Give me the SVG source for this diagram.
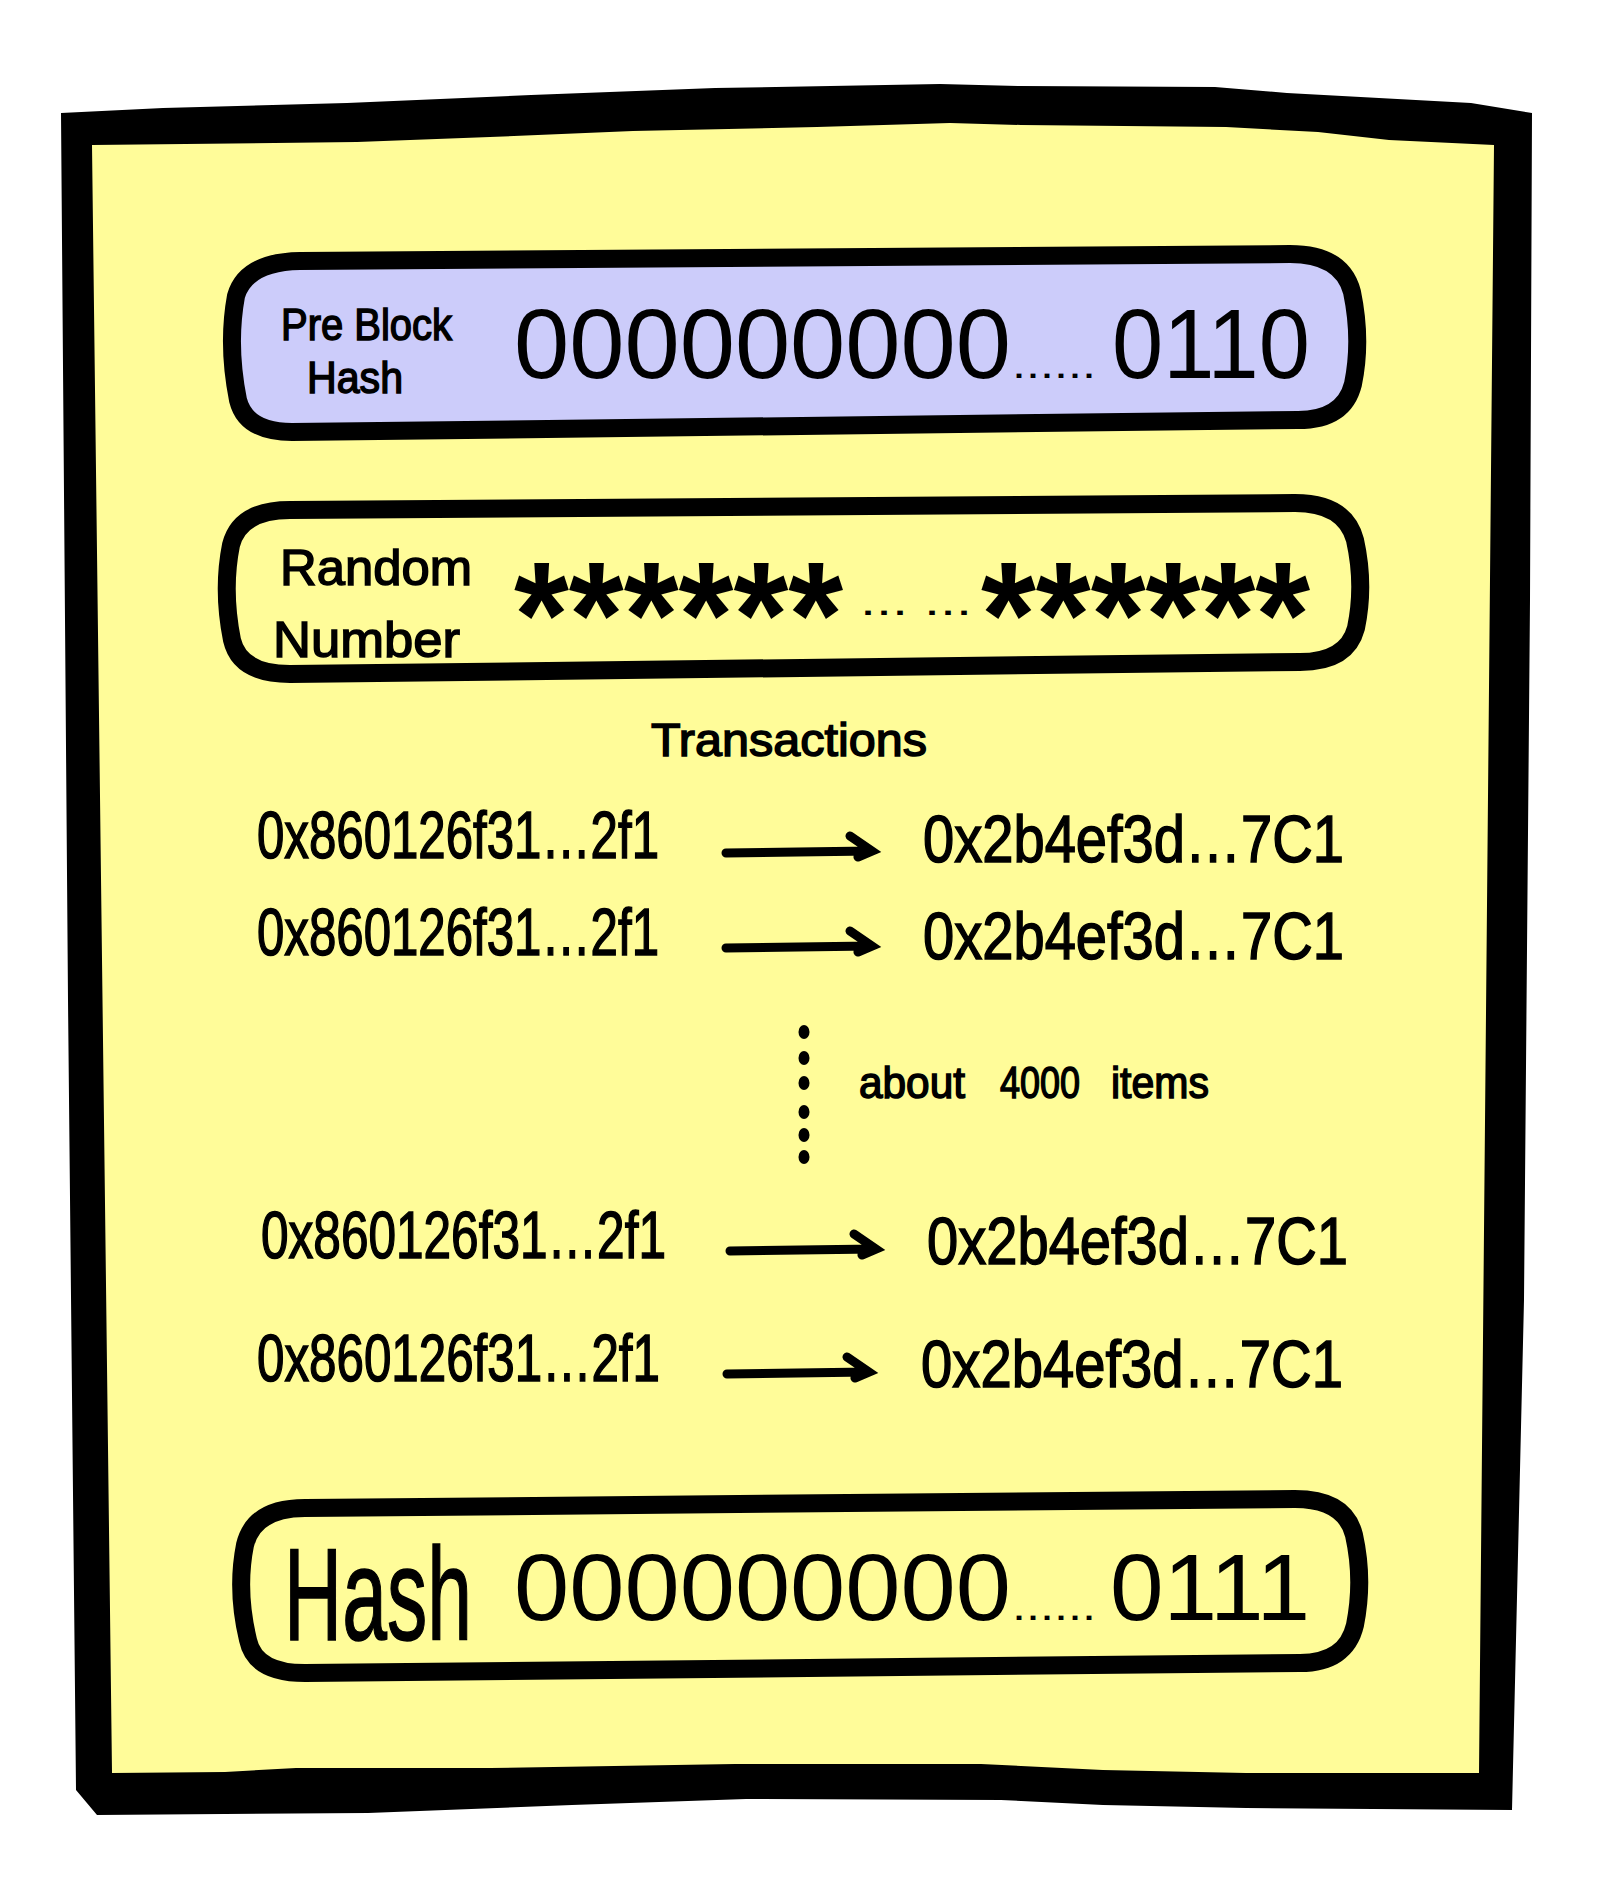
<svg xmlns="http://www.w3.org/2000/svg" width="1601" height="1900" viewBox="0 0 1601 1900">
<style>
.t{font-family:"Liberation Sans",Arial,sans-serif;fill:#000;}
.hand{stroke:#000;stroke-width:1.5;}
.pill{stroke:#000;stroke-width:18;stroke-linejoin:round;}
.arr{stroke:#000;stroke-width:9;stroke-linecap:round;fill:none;}
</style>
<rect width="1601" height="1900" fill="#ffffff"/>
<g id="frame">
<path d="M61,113 L163,108 L347,103 L531,95 L715,88 L940,84 L1021,86 L1215,87 L1287,93 L1471,103 L1532,113 L1530,600 L1524,1300 L1512,1810 L1246,1808 L1103,1805 L1001,1800 L746,1799 L572,1805 L368,1813 L97,1815 L76,1790 L68,1000 Z" fill="#000"/>
<path d="M92,145 L357,142 L490,137 L633,131 L817,127 L950,123 L1021,125 L1226,127 L1318,132 L1389,140 L1494,145 L1479,1773 L1246,1773 L1103,1770 L981,1764 L735,1764 L490,1768 L296,1768 L225,1772 L112,1773 Z" fill="#fffc99"/>
</g>
<g id="pre-block-hash">
<path class="pill" fill="#ccccfa" d="M300,261 L1290,254 Q1342,254 1352,292 Q1362,340 1353,384 Q1344,420 1298,420 L292,432 Q246,432 238,400 Q227,345 236,296 Q246,262 300,261 Z"/>
<text class="t hand" x="281" y="340" font-size="44" textLength="171" lengthAdjust="spacingAndGlyphs">Pre Block</text>
<text class="t hand" x="307" y="393" font-size="44" textLength="96" lengthAdjust="spacingAndGlyphs">Hash</text>
<text class="t" y="378" font-size="99"><tspan x="514" textLength="497" lengthAdjust="spacingAndGlyphs">000000000</tspan><tspan x="1012" font-size="40" textLength="84" lengthAdjust="spacingAndGlyphs">......</tspan><tspan x="1112" textLength="198" lengthAdjust="spacingAndGlyphs">0110</tspan></text>
</g>
<g id="random-number">
<path class="pill" fill="#fffc99" d="M290,510 L1295,503 Q1345,503 1355,540 Q1365,585 1356,628 Q1347,662 1300,662 L290,674 Q240,674 232,640 Q222,590 231,545 Q240,510 290,510 Z"/>
<text class="t hand" x="280" y="585" font-size="50" textLength="192" lengthAdjust="spacingAndGlyphs">Random</text>
<text class="t hand" x="273" y="657" font-size="50" textLength="187" lengthAdjust="spacingAndGlyphs">Number</text>
<text class="t" font-size="150" font-weight="bold" transform="translate(514,667) scale(0.94,1)">******</text>
<text class="t" y="615" font-size="40"><tspan x="860" textLength="112" lengthAdjust="spacingAndGlyphs">... ...</tspan></text>
<text class="t" font-size="150" font-weight="bold" transform="translate(981,667) scale(0.94,1)">******</text>
</g>
<g id="transactions">
<text class="t hand" x="651" y="756" font-size="46" textLength="276" lengthAdjust="spacingAndGlyphs">Transactions</text>
</g>
<g id="tx1">
<text class="t hand" x="257" y="858" font-size="66" textLength="402" lengthAdjust="spacingAndGlyphs">0x860126f31…2f1</text>
<text class="t hand" x="923" y="862" font-size="66" textLength="421" lengthAdjust="spacingAndGlyphs">0x2b4ef3d…7C1</text>
</g>
<g id="tx2">
<text class="t hand" x="257" y="955" font-size="66" textLength="402" lengthAdjust="spacingAndGlyphs">0x860126f31…2f1</text>
<text class="t hand" x="923" y="959" font-size="66" textLength="421" lengthAdjust="spacingAndGlyphs">0x2b4ef3d…7C1</text>
</g>
<g id="ellipsis">
<ellipse cx="804" cy="1032" rx="5.5" ry="7"/>
<ellipse cx="804" cy="1058" rx="5.5" ry="7"/>
<ellipse cx="804" cy="1083" rx="5.5" ry="7"/>
<ellipse cx="804" cy="1112" rx="5.5" ry="7"/>
<ellipse cx="804" cy="1135" rx="5.5" ry="7"/>
<ellipse cx="804" cy="1157" rx="5.5" ry="7"/>
<text class="t hand" y="1098" font-size="44"><tspan x="859" textLength="106" lengthAdjust="spacingAndGlyphs">about</tspan><tspan x="1000" textLength="80" lengthAdjust="spacingAndGlyphs">4000</tspan><tspan x="1111" textLength="98" lengthAdjust="spacingAndGlyphs">items</tspan></text>
</g>
<g id="tx3">
<text class="t hand" x="261" y="1258" font-size="66" textLength="405" lengthAdjust="spacingAndGlyphs">0x860126f31…2f1</text>
<text class="t hand" x="927" y="1264" font-size="66" textLength="421" lengthAdjust="spacingAndGlyphs">0x2b4ef3d…7C1</text>
</g>
<g id="tx4">
<text class="t hand" x="257" y="1381" font-size="66" textLength="403" lengthAdjust="spacingAndGlyphs">0x860126f31…2f1</text>
<text class="t hand" x="921" y="1387" font-size="66" textLength="422" lengthAdjust="spacingAndGlyphs">0x2b4ef3d…7C1</text>
</g>
<g id="hash">
<path class="pill" fill="#fffc99" d="M305,1508 L1295,1499 Q1345,1499 1354,1535 Q1364,1580 1355,1625 Q1346,1663 1300,1663 L305,1673 Q255,1673 248,1640 Q236,1590 245,1545 Q254,1508 305,1508 Z"/>
<text class="t hand" font-size="132" transform="translate(284,1640) scale(0.61,1)">Hash</text>
<text class="t" y="1620" font-size="95"><tspan x="514" textLength="497" lengthAdjust="spacingAndGlyphs">000000000</tspan><tspan x="1012" font-size="40" textLength="84" lengthAdjust="spacingAndGlyphs">......</tspan><tspan x="1110" textLength="200" lengthAdjust="spacingAndGlyphs">0111</tspan></text>
</g>
<g id="connectors">
<path class="arr" d="M726,853 L871,851 M850,836 L872,851 L858,857"/>
<path class="arr" d="M726,948 L871,946 M850,931 L872,946 L858,952"/>
<path class="arr" d="M730,1251 L875,1249 M854,1234 L876,1249 L862,1255"/>
<path class="arr" d="M727,1374 L868,1372 M847,1357 L869,1372 L855,1378"/>
</g>
</svg>
